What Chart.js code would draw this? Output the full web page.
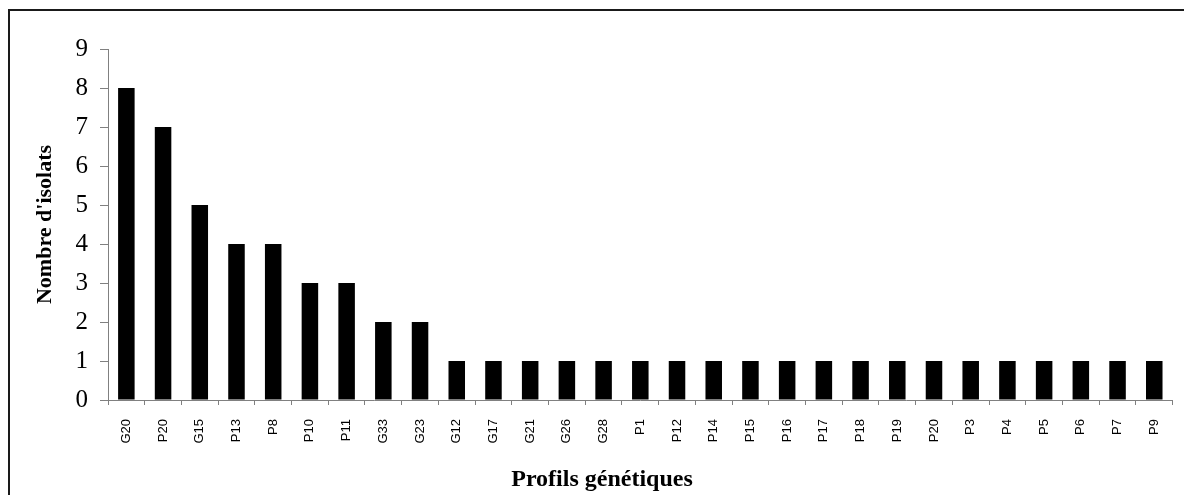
<!DOCTYPE html>
<html>
<head>
<meta charset="utf-8">
<script src="https://cdn.jsdelivr.net/npm/chart.js@4/dist/chart.umd.min.js"></script>
<style>
    html, body { margin: 0; padding: 0; background: #fff; overflow: hidden; }
    #wrap { position: relative; width: 1184px; height: 495px; }
    #frame {
        position: absolute; left: 8px; top: 9px;
        width: 1300px; height: 600px;
        border: 2px solid #1a1a1a;
    }
    canvas { position: absolute; left: 0; top: 0; }
</style>
</head>
<body>
<div id="wrap">
    <div id="frame"></div>
    <canvas id="chart" width="1184" height="495"></canvas>
</div>
<script>
// Profils génétiques et nombre d'isolats
const profils = ['G20', 'P20', 'G15', 'P13', 'P8', 'P10', 'P11', 'G33', 'G23', 'G12',
    'G17', 'G21', 'G26', 'G28', 'P1', 'P12', 'P14', 'P15', 'P16', 'P17',
    'P18', 'P19', 'P20', 'P3', 'P4', 'P5', 'P6', 'P7', 'P9'];
const isolats = [8, 7, 5, 4, 4, 3, 3, 2, 2, 1,
    1, 1, 1, 1, 1, 1, 1, 1, 1, 1,
    1, 1, 1, 1, 1, 1, 1, 1, 1];
const yMax = 9;
const xTitle = 'Profils génétiques';
const yTitle = "Nombre d'isolats";

const axisGrey = '#808080';
const serif = '"Liberation Serif", "Times New Roman", serif';

// x title is drawn by hand: in the original it sits left of the plot centre
const xTitlePlugin = {
    id: 'xTitle',
    afterDraw(chart) {
        const ctx = chart.ctx;
        ctx.save();
        ctx.font = 'bold 24px ' + serif;
        ctx.fillStyle = '#000';
        ctx.textAlign = 'center';
        ctx.textBaseline = 'alphabetic';
        ctx.fillText(xTitle, 602, 486);
        ctx.restore();
    }
};

new Chart(document.getElementById('chart'), {
    type: 'bar',
    data: {
        labels: profils,
        datasets: [{
            data: isolats,
            backgroundColor: '#000',
            borderWidth: 0,
            categoryPercentage: 1,
            barPercentage: 0.45
        }]
    },
    options: {
        responsive: false,
        animation: false,
        layout: {
            padding: { top: 49, right: 8, left: 0, bottom: 0 }
        },
        plugins: {
            legend: { display: false },
            tooltip: { enabled: false }
        },
        scales: {
            x: {
                grid: {
                    offset: true,
                    drawOnChartArea: false,
                    drawTicks: true,
                    tickLength: 5,
                    tickColor: axisGrey
                },
                border: { color: axisGrey, width: 1 },
                ticks: {
                    autoSkip: false,
                    minRotation: 90,
                    maxRotation: 90,
                    padding: 14,
                    color: '#000',
                    font: { family: '"Liberation Sans", Arial, sans-serif', size: 13 }
                },
                afterFit(scale) {
                    scale.height = 95;
                }
            },
            y: {
                min: 0,
                max: yMax,
                grid: {
                    drawOnChartArea: false,
                    drawTicks: true,
                    tickLength: 8,
                    tickColor: axisGrey
                },
                border: { color: axisGrey, width: 1 },
                ticks: {
                    stepSize: 1,
                    padding: 12,
                    color: '#000',
                    font: { family: serif, size: 25 }
                },
                title: {
                    display: true,
                    text: yTitle,
                    color: '#000',
                    padding: { top: 32, bottom: 0 },
                    font: { family: serif, size: 22, weight: 'bold' }
                },
                afterFit(scale) {
                    scale.width = 108;
                }
            }
        }
    },
    plugins: [xTitlePlugin]
});
</script>
</body>
</html>
